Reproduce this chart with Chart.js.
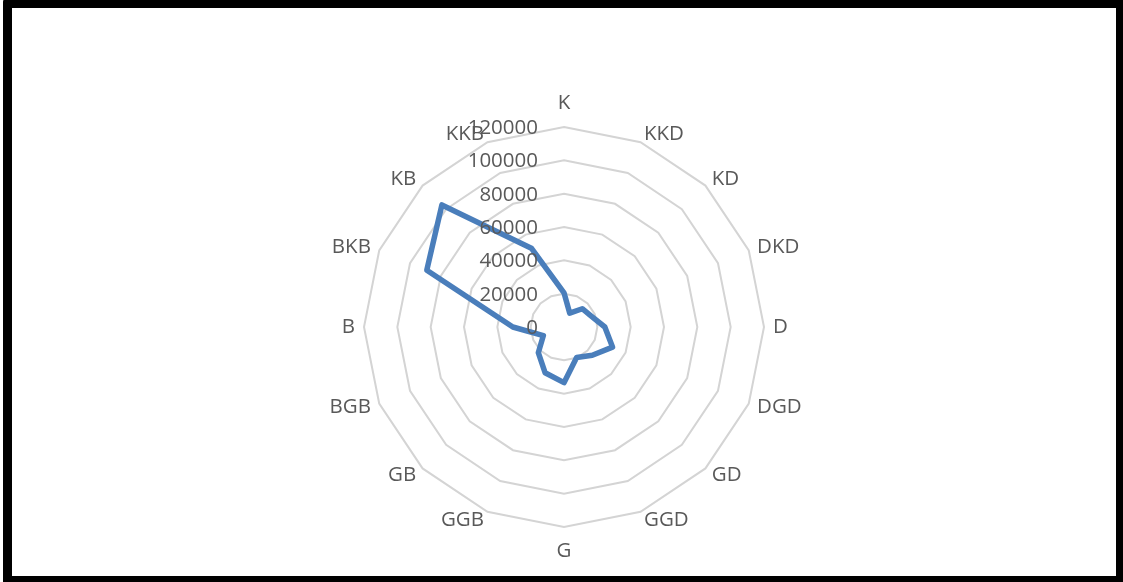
<!DOCTYPE html>
<html>
<head>
<meta charset="utf-8">
<script src="https://cdn.jsdelivr.net/npm/chart.js@4"></script>
<style>
    html, body { margin: 0; padding: 0; background: #fff; overflow: hidden; }
    #wrap { position: absolute; left: 0; top: 0; width: 1123px; height: 582px; }
    #frame { position: absolute; left: 3px; top: -1px; width: 1104px; height: 568px;
             border: 9px solid #000; border-radius: 3px; pointer-events: none; }
</style>
</head>
<body>
<div id="wrap"><canvas id="radar"></canvas></div>
<div id="frame"></div>
<script>
// yön etiketleri (saat yönünde, kuzeyden başlayarak)
const yonler = ['K', 'KKD', 'KD', 'DKD', 'D', 'DGD', 'GD', 'GGD', 'G', 'GGB', 'GB', 'BGB', 'B', 'BKB', 'KB', 'KKB'];
const degerler = [20500, 9000, 15500, 17500, 24500, 31500, 24000, 19800, 33400, 29700, 21800, 13400, 30700, 89100, 103600, 51200];
const eksenDegerleri = [0, 20000, 40000, 60000, 80000, 100000, 120000];

const yaziRengi = '#595959';
const yaziFontu = '20.5px "Open Sans"';

// Excel tarzı etiketler: eksen değerleri dikey eksenin solunda, yön adları dışarıda
const etiketler = {
    id: 'etiketler',
    afterDatasetsDraw(chart) {
        const scale = chart.scales.r;
        const ctx = chart.ctx;
        ctx.save();
        ctx.fillStyle = yaziRengi;
        ctx.font = yaziFontu;

        // yön adları
        ctx.textBaseline = 'middle';
        yonler.forEach((ad, i) => {
            const aci = Math.round(scale.getIndexAngle(i) * 180 / Math.PI) % 360;
            if (aci === 0 || aci === 180) {
                const p = scale.getPointPosition(i, scale.drawingArea + 24);
                ctx.textAlign = 'center';
                ctx.fillText(ad, p.x, p.y);
            } else {
                const p = scale.getPointPosition(i, scale.drawingArea + 9);
                ctx.textAlign = aci < 180 ? 'left' : 'right';
                ctx.fillText(ad, p.x, p.y);
            }
        });

        // eksen değerleri
        ctx.textAlign = 'right';
        eksenDegerleri.forEach(v => {
            const y = scale.yCenter - scale.getDistanceFromCenterForValue(v);
            ctx.fillText(String(v), scale.xCenter - 26, y + 1);
        });
        ctx.restore();
    }
};

const ctx = document.getElementById('radar');
new Chart(ctx, {
    type: 'radar',
    data: {
        labels: yonler,
        datasets: [{
            label: 'Seri1',
            data: degerler,
            borderColor: '#4A7EBB',
            backgroundColor: 'rgba(0,0,0,0)',
            borderWidth: 5.5,
            borderJoinStyle: 'round',
            fill: false,
            pointRadius: 0,
            pointHoverRadius: 0,
            tension: 0
        }]
    },
    options: {
        responsive: true,
        maintainAspectRatio: false,
        animation: false,
        layout: {
            padding: { top: 127, bottom: 54, left: 364, right: 358 }
        },
        plugins: {
            legend: { display: false },
            tooltip: { enabled: false }
        },
        scales: {
            r: {
                min: eksenDegerleri[0],
                max: eksenDegerleri[eksenDegerleri.length - 1],
                ticks: { stepSize: 20000, display: false },
                angleLines: { display: false },
                pointLabels: { display: false },
                grid: { color: '#D4D4D4', lineWidth: 2, circular: false }
            }
        }
    },
    plugins: [etiketler]
});
</script>
</body>
</html>
